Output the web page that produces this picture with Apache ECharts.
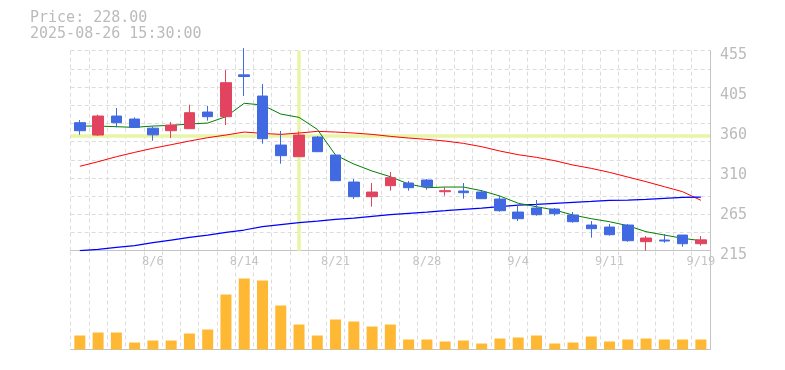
<!DOCTYPE html>
<html>
<head>
<meta charset="utf-8">
<script src="https://cdn.jsdelivr.net/npm/echarts@6/dist/echarts.min.js"></script>
<style>
html,body{margin:0;padding:0;background:#fff;}
#chart{width:785px;height:370px;}
</style>
</head>
<body>
<div id="chart"></div>
<script>
const dates = ['7/31','8/1','8/4','8/5','8/6','8/7','8/8','8/12','8/13','8/14','8/15','8/18','8/19','8/20','8/21','8/22','8/25','8/26','8/27','8/28','8/29','9/1','9/2','9/3','9/4','9/5','9/8','9/9','9/10','9/11','9/12','9/16','9/17','9/18','9/19'];
const tickLabels = ['8/6','8/14','8/21','8/28','9/4','9/11','9/19'];
const openP  = [368.6,353.8,376.6,373,362,359,361.4,381.4,375.8,426,400.6,341.8,327.8,351.4,329.8,297.4,279.8,293,296.2,299.8,285.8,286.6,285.4,277,261.4,266.2,265,257.8,245.8,243.4,245.8,225.8,227.8,233.8,223.4];
const closeP = [359,376.6,368.6,363,354,365.8,380.6,375.8,416.6,424,349.4,329,353.8,333.8,299,279.8,285.4,302.6,290.6,291.8,287,284.6,277.4,263,253.4,258.2,259.4,249.8,241.4,234.2,227,230.2,226.6,223.4,228];
const lowP   = [354.2,352.6,363.1,363,347,350.2,361.4,371,365.8,400.6,343.4,319.4,327.8,333.8,299,277,267.8,287,287,288.2,281,277.4,277.4,261.8,250.6,257,257,248.6,230.6,233,225.8,215,224.6,219.8,221];
const highP  = [371.8,378.2,386.2,375,364,369.4,390.2,388.6,431.8,458,415,358.6,358,352.6,329.8,301,296.2,309.4,298.6,301,291.4,296.2,287.8,280.6,269.8,275.8,266.2,261.4,250.6,247,247,232.6,235,233.8,232.6];
const maShort = [364.6,364.6,363.8,363,364.6,365.4,367,368.2,375.8,391.9,389.8,379,375,360.6,329.8,319,310.6,303.8,295,290.6,291.4,291.4,287,280.6,271.9,267.8,263.8,257.8,253.4,249.8,245,237.8,233.8,229.9,227];
const maMid = [316.3,321.8,327.8,333,337.9,342.2,346.6,350.6,353.8,357.4,355.8,354.6,356.2,358.2,357.4,356.2,354.6,352.2,350.2,348.6,346.6,343.8,339.8,334.6,330.2,327,323,317.8,313.8,309,303.4,297.8,291.8,285.8,275.5];
const maLong = [215,216.6,219,221,224.6,227.8,231,233.8,237,239.8,243.8,246.2,248.6,250.6,252.7,254.2,256.3,258.2,259.9,261.4,263,264.7,266.2,267.8,269.8,270.7,271.9,273.1,274.2,275.5,275.8,276.6,277.8,279,279.4];
const volume = [14000,17000,17000,7000,9000,9000,16000,20000,55000,71000,69000,44000,25000,14000,30000,28000,23000,25000,10000,10000,8000,9000,6000,11000,12000,14000,6000,7000,13000,8000,10000,11000,10000,10000,10000];
const priceMin = 215, priceMax = 455, priceStep = 48;
const crossDate = '8/19', crossPrice = 353.5;
const titleText = 'Price: 228.00\n2025-08-26 15:30:00';

const candles = dates.map((d,i)=>[openP[i],closeP[i],lowP[i],highP[i]]);
const mono = 'DejaVu Sans Mono';
const gridColor = '#dcdcdc';
const axisColor = '#c4c4c4';

const chart = echarts.init(document.getElementById('chart'), null, {renderer:'canvas'});
chart.setOption({
  animation:false,
  backgroundColor:'#fff',
  title:{
    text:titleText, left:30, top:10, padding:0,
    textStyle:{fontFamily:mono,fontSize:15,fontWeight:'normal',color:'#bbbbbb',lineHeight:16}
  },
  grid:[
    {left:70.7,right:75,top:50.7,height:200},
    {left:70.7,right:75,top:251.5,height:98}
  ],
  xAxis:[
    {type:'category',gridIndex:0,data:dates,boundaryGap:true,
     axisLine:{show:true,lineStyle:{color:axisColor,width:1}},
     axisTick:{show:false},
     axisLabel:{interval:(i,v)=>tickLabels.indexOf(v)>=0,color:'#c4c4c4',fontFamily:mono,fontSize:12,margin:5},
     splitLine:{show:true,interval:0,lineStyle:{color:gridColor,type:[4,3],width:1}}
    },
    {type:'category',gridIndex:1,data:dates,boundaryGap:true,
     axisLine:{show:true,lineStyle:{color:axisColor,width:1}},
     axisTick:{show:false},axisLabel:{show:false},
     splitLine:{show:true,interval:0,lineStyle:{color:gridColor,type:[4,3],width:1}}
    }
  ],
  yAxis:[
    {type:'value',gridIndex:0,position:'right',min:priceMin,max:priceMax,interval:priceStep,
     axisLine:{show:true,lineStyle:{color:axisColor}},axisTick:{show:false},
     splitLine:{show:false},
     axisLabel:{color:'#bbbbbb',fontFamily:mono,fontSize:15,margin:10,
       formatter:v=>'{a|'+String(Math.round(v/5)*5)+'}',
       rich:{a:{color:'#bbbbbb',fontFamily:mono,fontSize:15,padding:[8,0,0,0]}}}
    },
    {type:'value',gridIndex:1,position:'right',min:0,max:98000,
     axisLine:{show:true,lineStyle:{color:axisColor}},axisTick:{show:false},
     axisLabel:{show:false},splitLine:{show:false}
    },
    {type:'value',gridIndex:0,position:'left',min:0,max:11,interval:1,
     axisLine:{show:false},axisTick:{show:false},axisLabel:{show:false},
     splitLine:{show:true,lineStyle:{color:gridColor,type:[4,3],width:1}}
    }
  ],
  series:[
    {type:'line',xAxisIndex:0,yAxisIndex:0,data:maMid,showSymbol:false,silent:true,
     lineStyle:{color:'#ff0000',width:1},z:2},
    {type:'line',xAxisIndex:0,yAxisIndex:0,data:maLong,showSymbol:false,silent:true,
     lineStyle:{color:'#0000ff',width:1.2},z:2},
    {type:'line',xAxisIndex:0,yAxisIndex:0,data:maShort,showSymbol:false,silent:true,
     lineStyle:{color:'#008000',width:1},z:2},
    {type:'candlestick',xAxisIndex:0,yAxisIndex:0,data:candles,barWidth:11,clip:false,z:3,
     itemStyle:{color:'#e2445f',color0:'#4169e1',borderColor:'#e2445f',borderColor0:'#4169e1',borderWidth:1},
     markLine:{symbol:'none',silent:true,animation:false,z:1,
       label:{show:false},
       lineStyle:{color:'#e8f5a6',width:3.5,type:'solid',opacity:1},
       data:[{xAxis:crossDate},{yAxis:crossPrice}]}
    },
    {type:'bar',xAxisIndex:1,yAxisIndex:1,data:volume,barWidth:11,
     itemStyle:{color:'#ffb833'}}
  ]
});
</script>
</body>
</html>
